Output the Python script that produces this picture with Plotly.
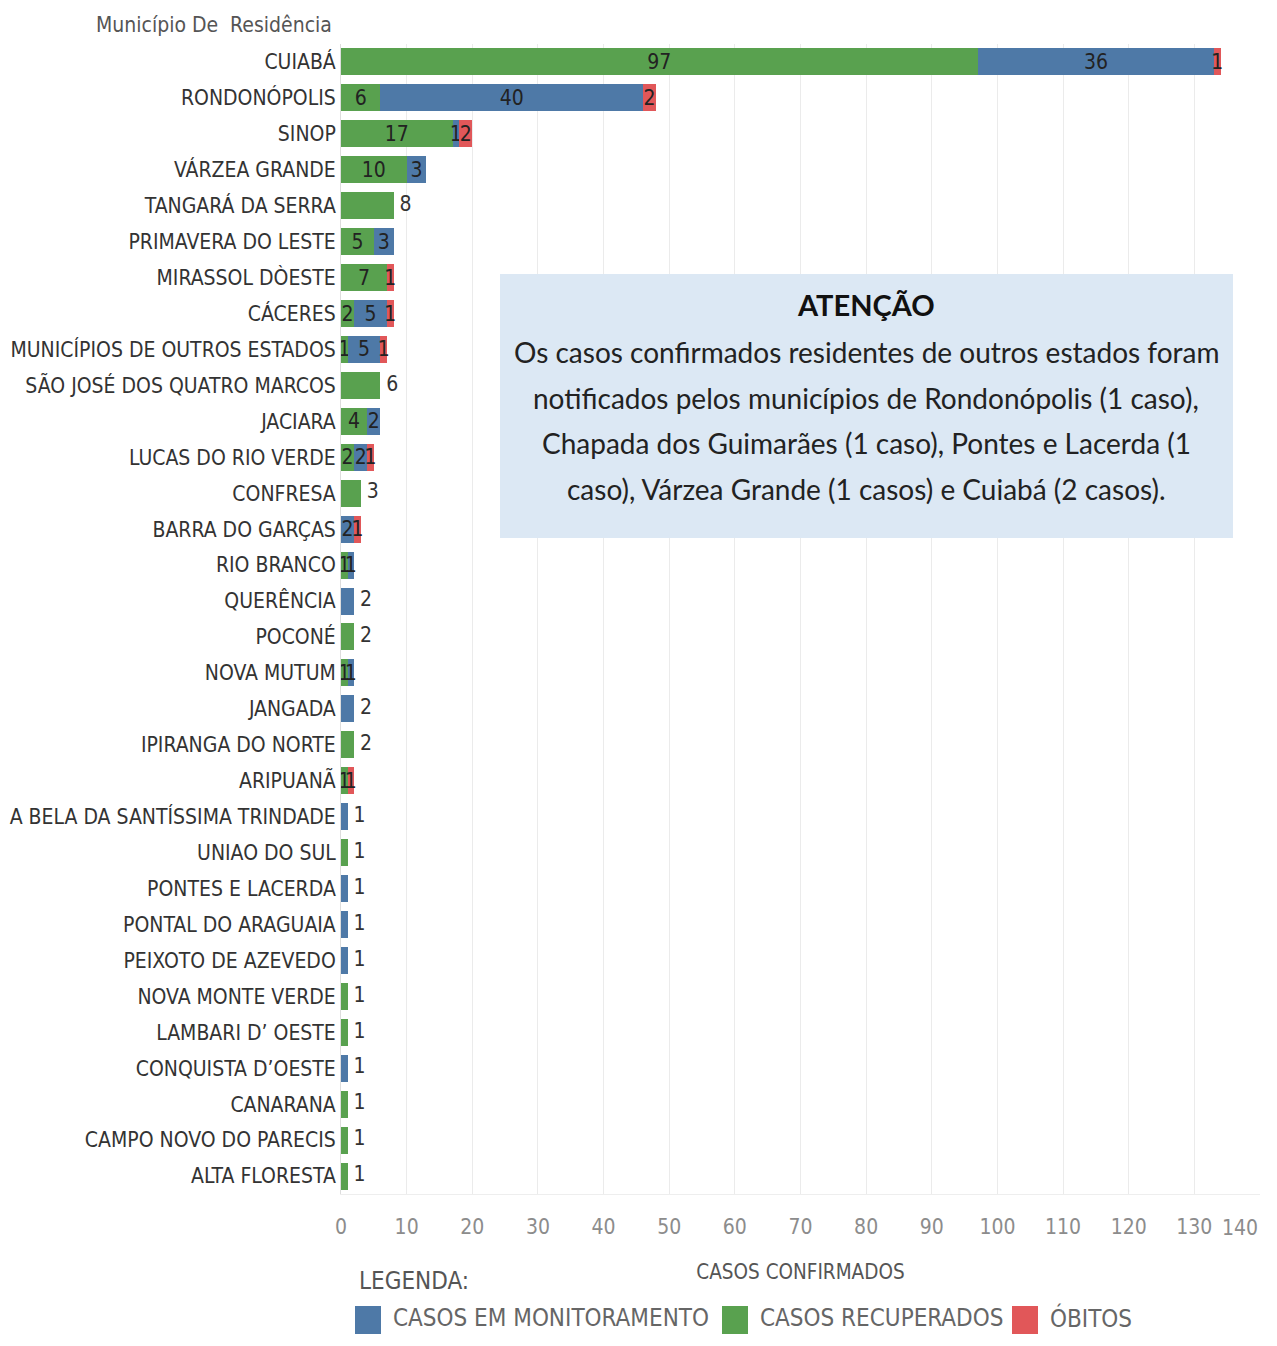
import plotly.graph_objects as go

municipios = [
    "CUIABÁ", "RONDONÓPOLIS", "SINOP", "VÁRZEA GRANDE", "TANGARÁ DA SERRA",
    "PRIMAVERA DO LESTE", "MIRASSOL DÒESTE", "CÁCERES", "MUNICÍPIOS DE OUTROS ESTADOS",
    "SÃO JOSÉ DOS QUATRO MARCOS", "JACIARA", "LUCAS DO RIO VERDE", "CONFRESA",
    "BARRA DO GARÇAS", "RIO BRANCO", "QUERÊNCIA", "POCONÉ", "NOVA MUTUM", "JANGADA",
    "IPIRANGA DO NORTE", "ARIPUANÃ", "A BELA DA SANTÍSSIMA TRINDADE", "UNIAO DO SUL",
    "PONTES E LACERDA", "PONTAL DO ARAGUAIA", "PEIXOTO DE AZEVEDO", "NOVA MONTE VERDE",
    "LAMBARI D’ OESTE", "CONQUISTA D’OESTE", "CANARANA", "CAMPO NOVO DO PARECIS",
    "ALTA FLORESTA",
]
recuperados = [97, 6, 17, 10, 8, 5, 7, 2, 1, 6, 4, 2, 3, 0, 1, 0, 2, 1, 0, 2, 1,
               0, 1, 0, 0, 0, 1, 1, 0, 1, 1, 1]
monitoramento = [36, 40, 1, 3, 0, 3, 0, 5, 5, 0, 2, 2, 0, 2, 1, 2, 0, 1, 2, 0, 0,
                 1, 0, 1, 1, 1, 0, 0, 1, 0, 0, 0]
obitos = [1, 2, 2, 0, 0, 0, 1, 1, 1, 0, 0, 1, 0, 1, 0, 0, 0, 0, 0, 0, 1,
          0, 0, 0, 0, 0, 0, 0, 0, 0, 0, 0]

x_ticks = list(range(0, 141, 10))
x_max = 140
eixo_x_titulo = "CASOS CONFIRMADOS"
eixo_y_titulo = "Município De  Residência"
nota_titulo = "ATENÇÃO"
nota_linhas = [
    "Os casos confirmados residentes de outros estados foram",
    "notificados pelos municípios de Rondonópolis (1 caso),",
    "Chapada dos Guimarães (1 caso), Pontes e Lacerda (1",
    "caso), Várzea Grande (1 casos) e Cuiabá (2 casos).",
]
legenda_titulo = "LEGENDA:"
legenda_itens = ["CASOS EM MONITORAMENTO", "CASOS RECUPERADOS", "ÓBITOS"]

C_BLUE = "#4e79a7"
C_GREEN = "#59a14f"
C_RED = "#e15759"

NARROW = "Liberation Sans Narrow, Arial Narrow, DejaVu Sans Condensed, sans-serif"
NOTE_FONT = "Lato, Carlito, Calibri, sans-serif"

# page offset of the figure inside the browser body (default 8px margin)
OX, OY = 8, 8
W, H = 1254, 1328
L, T = 333, 36
R = W + OX - 1260
B = H - (1194 - OY)
PW = W - L - R
PH = H - T - B


def px(xs):
    return (xs - OX - L) / PW


def py(ys):
    return (H - B - (ys - OY)) / PH


nseg = [(a > 0) + (b > 0) + (c > 0) for a, b, c in zip(recuperados, monitoramento, obitos)]
totais = [a + b + c for a, b, c in zip(recuperados, monitoramento, obitos)]


def labels(vals):
    return [str(v) if (v > 0 and n > 1) else "" for v, n in zip(vals, nseg)]


fig = go.Figure()
for nome, vals, cor in [
    ("CASOS RECUPERADOS", recuperados, C_GREEN),
    ("CASOS EM MONITORAMENTO", monitoramento, C_BLUE),
    ("ÓBITOS", obitos, C_RED),
]:
    fig.add_trace(go.Bar(
        y=municipios, x=vals, name=nome, orientation="h",
        marker=dict(color=cor, line=dict(width=0)),
        text=labels(vals), textposition="inside", insidetextanchor="middle",
        textangle=0, constraintext="none",
        insidetextfont=dict(family=NARROW, size=21, color="#222222"),
        showlegend=False, hoverinfo="x+y+name",
    ))

out_y = [m for m, n in zip(municipios, nseg) if n == 1]
out_x = [t for t, n in zip(totais, nseg) if n == 1]
fig.add_trace(go.Scatter(
    x=out_x, y=out_y, mode="text", text=[" " + str(v) for v in out_x],
    textposition="middle right",
    textfont=dict(family=NARROW, size=21, color="#333333"),
    showlegend=False, hoverinfo="skip", cliponaxis=False,
))

fig.update_layout(
    width=W, height=H, barmode="stack", bargap=0.25,
    margin=dict(l=L, r=R, t=T, b=B, pad=0),
    plot_bgcolor="white", paper_bgcolor="white",
    uniformtext=dict(minsize=21, mode="show"),
    font=dict(family=NARROW, color="#333333"),
)
# last tick label is right-aligned to the axis end (as in the original), the rest centred
fig.update_xaxes(
    range=[0, x_max], tickvals=x_ticks,
    ticktext=[str(v) if v != x_max else "" for v in x_ticks],
    showgrid=True, gridcolor="#ebebeb", gridwidth=1,
    zeroline=False, showline=True, linecolor="#eeeeee", automargin=False,
    ticklabelstandoff=14,
    tickfont=dict(family=NARROW, size=21, color="#8c8c8c"), ticks="",
    title=dict(text=eixo_x_titulo, font=dict(family=NARROW, size=20.5, color="#555555"), standoff=26),
)
fig.update_yaxes(
    range=[len(municipios) - 0.5, -0.5], showgrid=False, zeroline=False, automargin=False,
    showline=True, linecolor="#dddddd", ticks="",
    tickfont=dict(family=NARROW, size=21, color="#333333"),
)

ann = []
ann.append(dict(text=str(x_max), xref="x", yref="paper", x=x_max, y=py(1228),
                xanchor="right", yanchor="middle", showarrow=False,
                font=dict(family=NARROW, size=21, color="#8c8c8c")))
ann.append(dict(text=eixo_y_titulo, xref="paper", yref="paper", x=px(334), y=py(25),
                xanchor="right", yanchor="middle", showarrow=False,
                font=dict(family=NARROW, size=21, color="#555555")))

shapes = [dict(type="rect", xref="paper", yref="paper", x0=px(500), x1=px(1233),
               y0=py(538), y1=py(274), fillcolor="#dce8f4", line=dict(width=0), layer="above")]
ann.append(dict(text="<b>" + nota_titulo + "</b>", xref="paper", yref="paper",
                x=px(866), y=py(304), xanchor="center", yanchor="middle", showarrow=False,
                font=dict(family=NOTE_FONT, size=29, color="#111111")))
for i, linha in enumerate(nota_linhas):
    ann.append(dict(text=linha, xref="paper", yref="paper", x=px(866), y=py(352 + 45.6 * i),
                    xanchor="center", yanchor="middle", showarrow=False,
                    font=dict(family=NOTE_FONT, size=28, color="#222222")))

ann.append(dict(text=legenda_titulo, xref="paper", yref="paper", x=px(357), y=py(1281),
                xanchor="left", yanchor="middle", showarrow=False,
                font=dict(family=NARROW, size=24, color="#555555")))
leg_pos = [(355, 391), (722, 758), (1012, 1048)]
leg_cores = [C_BLUE, C_GREEN, C_RED]
for (sx, tx), cor, txt in zip(leg_pos, leg_cores, legenda_itens):
    shapes.append(dict(type="rect", xref="paper", yref="paper", x0=px(sx), x1=px(sx + 26),
                       y0=py(1334), y1=py(1306), fillcolor=cor, line=dict(width=0)))
    ann.append(dict(text=txt, xref="paper", yref="paper", x=px(tx), y=py(1318),
                    xanchor="left", yanchor="middle", showarrow=False,
                    font=dict(family=NARROW, size=24, color="#666666")))

fig.update_layout(annotations=ann, shapes=shapes)
fig.write_html("out.html")
